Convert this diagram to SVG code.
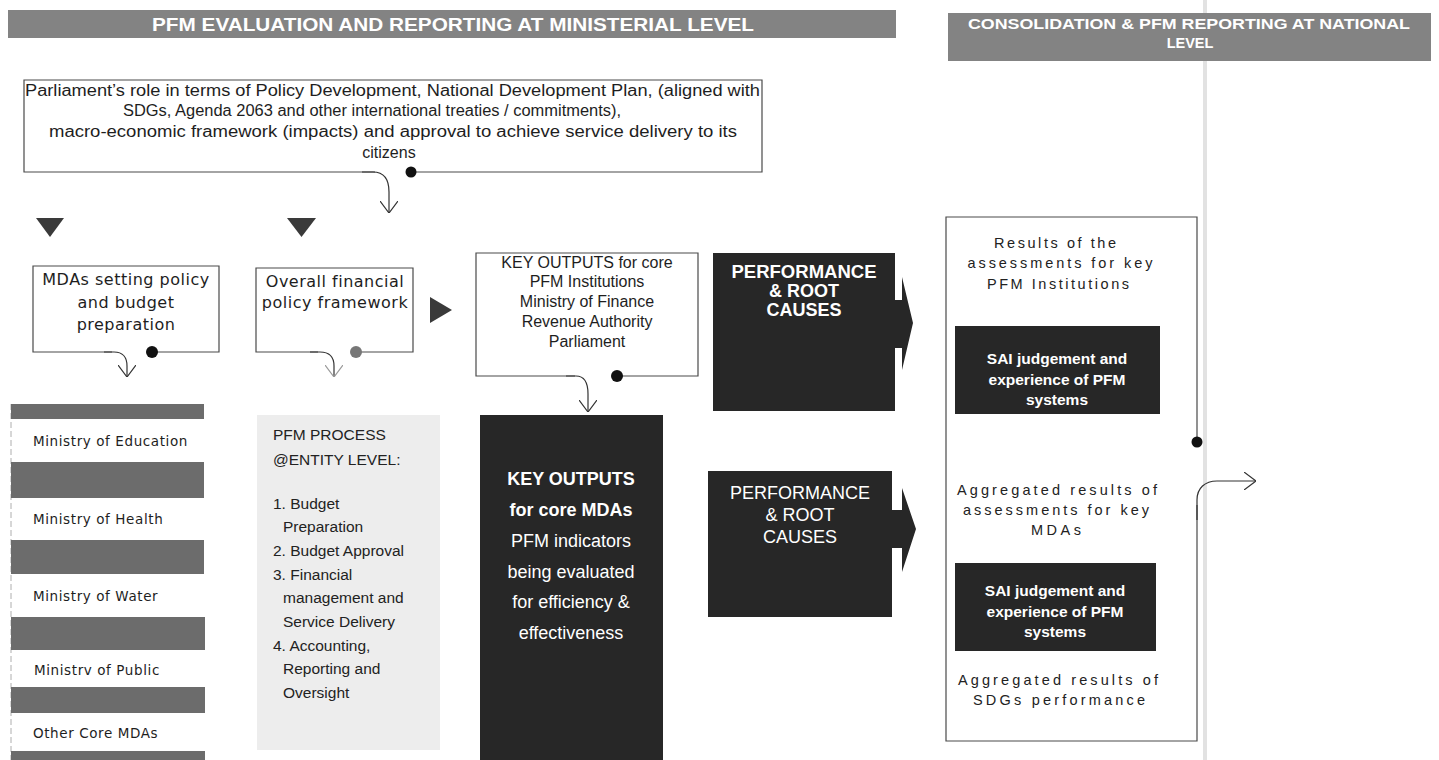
<svg xmlns="http://www.w3.org/2000/svg" width="1439" height="760" viewBox="0 0 1439 760">
<style>
.band{fill:#838383}
.stripe{fill:#6c6c6c}
.dark{fill:#272727}
.box{fill:none;stroke:#4a4a4a;stroke-width:1.2}
.hdr{font-family:"Liberation Sans",Arial,sans-serif;font-weight:bold;fill:#ffffff}
.t16{font-family:"Liberation Sans",Arial,sans-serif;font-size:16px;fill:#1e1e1e}
.dv{font-family:"DejaVu Sans",Verdana,sans-serif;fill:#1e1e1e}
.pfm{font-family:"Liberation Sans",Arial,sans-serif;font-size:15.5px;fill:#222}
.wb{font-family:"Liberation Sans",Arial,sans-serif;font-weight:bold;fill:#ffffff}
.wr{font-family:"Liberation Sans",Arial,sans-serif;fill:#ffffff}
.sp{font-family:"Liberation Sans",Arial,sans-serif;font-size:14.5px;fill:#222}
.con{fill:none;stroke:#333;stroke-width:1.2}
.tri{fill:#3a3a3a}
</style>
<defs>
<marker id="open" viewBox="0 0 12 18" refX="12" refY="9" markerWidth="12" markerHeight="18" markerUnits="userSpaceOnUse" orient="auto">
<path d="M0,0 L12,9 L0,18" fill="none" stroke="#333" stroke-width="1.2"/>
</marker>
<marker id="openGrey" viewBox="0 0 12 18" refX="12" refY="9" markerWidth="12" markerHeight="18" markerUnits="userSpaceOnUse" orient="auto">
<path d="M0,0 L12,9 L0,18" fill="none" stroke="#9a9a9a" stroke-width="1.2"/>
</marker>
</defs>
<rect width="1439" height="760" fill="#ffffff"/>
<line x1="1205" y1="0" x2="1205" y2="760" stroke="#e2e2e2" stroke-width="4"/>

<g id="header-ministerial">
<rect class="band" x="8" y="10" width="888" height="28"/>
<text class="hdr" x="152" y="31" font-size="19" textLength="602" lengthAdjust="spacingAndGlyphs">PFM EVALUATION AND REPORTING AT MINISTERIAL LEVEL</text>
</g>

<g id="header-national">
<rect class="band" x="948" y="13" width="483" height="48"/>
<text class="hdr" x="968" y="29" font-size="14.5" textLength="442" lengthAdjust="spacingAndGlyphs">CONSOLIDATION &amp; PFM REPORTING AT NATIONAL</text>
<text class="hdr" x="1190" y="48" font-size="14.5" text-anchor="middle">LEVEL</text>
</g>

<g id="parliament">
<path class="box" d="M375 172 H24 V80 H762 V172 H411"/>
<text class="t16" x="25" y="96" textLength="735" lengthAdjust="spacingAndGlyphs">Parliament’s role in terms of Policy Development, National Development Plan, (aligned with</text>
<text class="t16" x="372" y="116" text-anchor="middle" textLength="498" lengthAdjust="spacingAndGlyphs">SDGs, Agenda 2063 and other international treaties / commitments),</text>
<text class="t16" x="393" y="137" text-anchor="middle" textLength="688" lengthAdjust="spacingAndGlyphs">macro-economic framework (impacts) and approval to achieve service delivery to its</text>
<text class="t16" x="389" y="158" text-anchor="middle">citizens</text>
</g>

<g id="triangles">
<polygon class="tri" points="36,218 64,218 50,237"/>
<polygon class="tri" points="287,218 316,218 301.5,237"/>
<polygon class="tri" points="430,297 452,310 430,323"/>
</g>

<g id="mdas-setting">
<path class="box" d="M112 352 H33 V266 H219 V352 H152"/>
<text class="dv" font-size="16" letter-spacing="0.5" x="126" y="285" text-anchor="middle">MDAs setting policy</text>
<text class="dv" font-size="16" letter-spacing="0.5" x="126" y="308" text-anchor="middle">and budget</text>
<text class="dv" font-size="16" letter-spacing="0.5" x="126" y="330" text-anchor="middle">preparation</text>
</g>

<g id="overall-financial">
<path class="box" d="M318 352 H256 V268 H413 V352 H356" stroke="#777"/>
<text class="dv" font-size="16" letter-spacing="0.5" x="335" y="287" text-anchor="middle">Overall financial</text>
<text class="dv" font-size="16" letter-spacing="0.5" x="335" y="308" text-anchor="middle">policy framework</text>
</g>

<g id="ministries">
<line x1="11" y1="404" x2="11" y2="760" stroke="#999" stroke-width="0.8" stroke-dasharray="6 3"/>
<rect class="stripe" x="11" y="404" width="193" height="15"/>
<rect class="stripe" x="11" y="462" width="193" height="36"/>
<rect class="stripe" x="11" y="540" width="193" height="34"/>
<rect class="stripe" x="11" y="617" width="194" height="33"/>
<rect class="stripe" x="11" y="687" width="194" height="26"/>
<rect class="stripe" x="11" y="751" width="194" height="9"/>
<text class="dv" font-size="13.5" letter-spacing="0.6" x="33" y="446">Ministry of Education</text>
<text class="dv" font-size="13.5" letter-spacing="0.6" x="33" y="524">Ministry of Health</text>
<text class="dv" font-size="13.5" letter-spacing="0.6" x="33" y="601">Ministry of Water</text>
<text class="dv" font-size="13.5" letter-spacing="0.6" x="34" y="675">Ministrv of Public</text>
<text class="dv" font-size="13.5" letter-spacing="0.6" x="33" y="738">Other Core MDAs</text>
</g>

<g id="pfm-process">
<rect x="257" y="415" width="183" height="335" fill="#ededed"/>
<text class="pfm" x="273" y="440">PFM PROCESS</text>
<text class="pfm" x="273" y="465">@ENTITY LEVEL:</text>
<text class="pfm" x="273" y="509">1. Budget</text>
<text class="pfm" x="283" y="532">Preparation</text>
<text class="pfm" x="273" y="556">2. Budget Approval</text>
<text class="pfm" x="273" y="580">3. Financial</text>
<text class="pfm" x="283" y="603">management and</text>
<text class="pfm" x="283" y="627">Service Delivery</text>
<text class="pfm" x="273" y="651">4. Accounting,</text>
<text class="pfm" x="283" y="674">Reporting and</text>
<text class="pfm" x="283" y="698">Oversight</text>
</g>

<g id="key-outputs-institutions">
<path class="box" d="M575 376 H476 V253 H698 V376 H617"/>
<text class="t16" font-size="17.5" x="587" y="268" text-anchor="middle">KEY OUTPUTS for core</text>
<text class="t16" font-size="17.5" x="587" y="287" text-anchor="middle">PFM Institutions</text>
<text class="t16" font-size="17.5" x="587" y="307" text-anchor="middle">Ministry of Finance</text>
<text class="t16" font-size="17.5" x="587" y="327" text-anchor="middle">Revenue Authority</text>
<text class="t16" font-size="17.5" x="587" y="347" text-anchor="middle">Parliament</text>
</g>

<g id="key-outputs-mdas">
<rect class="dark" x="480" y="415" width="183" height="345"/>
<text class="wb" font-size="18" x="571" y="485" text-anchor="middle">KEY OUTPUTS</text>
<text class="wb" font-size="18" x="571" y="516" text-anchor="middle">for core MDAs</text>
<text class="wr" font-size="18" x="571" y="547" text-anchor="middle">PFM indicators</text>
<text class="wr" font-size="18" x="571" y="578" text-anchor="middle">being evaluated</text>
<text class="wr" font-size="18" x="571" y="608" text-anchor="middle">for efficiency &amp;</text>
<text class="wr" font-size="18" x="571" y="639" text-anchor="middle">effectiveness</text>
</g>

<g id="performance-1">
<polygon class="dark" points="894,300 902,300 902,277 913,323 902,370 902,348 894,348"/>
<rect class="dark" x="713" y="253" width="182" height="158"/>
<text class="wb" font-size="18" x="804" y="278" text-anchor="middle" textLength="145" lengthAdjust="spacingAndGlyphs">PERFORMANCE</text>
<text class="wb" font-size="18" x="804" y="297" text-anchor="middle">&amp; ROOT</text>
<text class="wb" font-size="18" x="804" y="316" text-anchor="middle">CAUSES</text>
</g>

<g id="performance-2">
<polygon class="dark" points="891,510 902,510 902,488 916,529 902,572 902,548 891,548"/>
<rect class="dark" x="708" y="471" width="184" height="146"/>
<text class="wr" font-size="18" x="800" y="499" text-anchor="middle">PERFORMANCE</text>
<text class="wr" font-size="18" x="800" y="521" text-anchor="middle">&amp; ROOT</text>
<text class="wr" font-size="18" x="800" y="543" text-anchor="middle">CAUSES</text>
</g>

<g id="national-results">
<path class="box" d="M1197 442 V217 H946 V741 H1197 V505"/>
<text class="sp" x="1055" y="248" text-anchor="middle" textLength="122" lengthAdjust="spacing">Results of the</text>
<text class="sp" x="1060" y="268" text-anchor="middle" textLength="185" lengthAdjust="spacing">assessments for key</text>
<text class="sp" x="1058" y="289" text-anchor="middle" textLength="142" lengthAdjust="spacing">PFM Institutions</text>
<text class="sp" x="1057" y="495" text-anchor="middle" textLength="200" lengthAdjust="spacing">Aggregated results of</text>
<text class="sp" x="1056" y="515" text-anchor="middle" textLength="186" lengthAdjust="spacing">assessments for key</text>
<text class="sp" x="1056" y="535" text-anchor="middle" textLength="50" lengthAdjust="spacing">MDAs</text>
<text class="sp" x="1058" y="685" text-anchor="middle" textLength="200" lengthAdjust="spacing">Aggregated results of</text>
<text class="sp" x="1059" y="705" text-anchor="middle" textLength="172" lengthAdjust="spacing">SDGs performance</text>
</g>

<g id="sai-1">
<rect class="dark" x="955" y="326" width="205" height="88"/>
<text class="wb" font-size="15.5" x="1057" y="364" text-anchor="middle">SAI judgement and</text>
<text class="wb" font-size="15.5" x="1057" y="385" text-anchor="middle">experience of PFM</text>
<text class="wb" font-size="15.5" x="1057" y="405" text-anchor="middle">systems</text>
</g>

<g id="sai-2">
<rect class="dark" x="955" y="563" width="201" height="88"/>
<text class="wb" font-size="15.5" x="1055" y="596" text-anchor="middle">SAI judgement and</text>
<text class="wb" font-size="15.5" x="1055" y="617" text-anchor="middle">experience of PFM</text>
<text class="wb" font-size="15.5" x="1055" y="637" text-anchor="middle">systems</text>
</g>

<g id="connectors">
<path class="con" d="M362 172 H373 C384 172 389 180 389 192 V213" marker-end="url(#open)"/>
<circle cx="411" cy="172" r="5.5" fill="#111"/>
<path class="con" d="M104 352 H114 C123 352 127 358 127 366 V377" marker-end="url(#open)"/>
<circle cx="152" cy="352" r="6" fill="#111"/>
<path class="con" d="M310 352 H320 C330 352 334 358 334 366 V377" stroke="#9a9a9a" marker-end="url(#openGrey)"/>
<circle cx="356" cy="352" r="6" fill="#777"/>
<path class="con" d="M566 376 H576 C585 376 588 384 588 394 V412" marker-end="url(#open)"/>
<circle cx="617" cy="376" r="6" fill="#111"/>
<path class="con" d="M1197 520 V500 C1197 488 1205 481 1217 481 H1256" marker-end="url(#open)"/>
<circle cx="1197" cy="442" r="5.5" fill="#111"/>
</g>
</svg>
